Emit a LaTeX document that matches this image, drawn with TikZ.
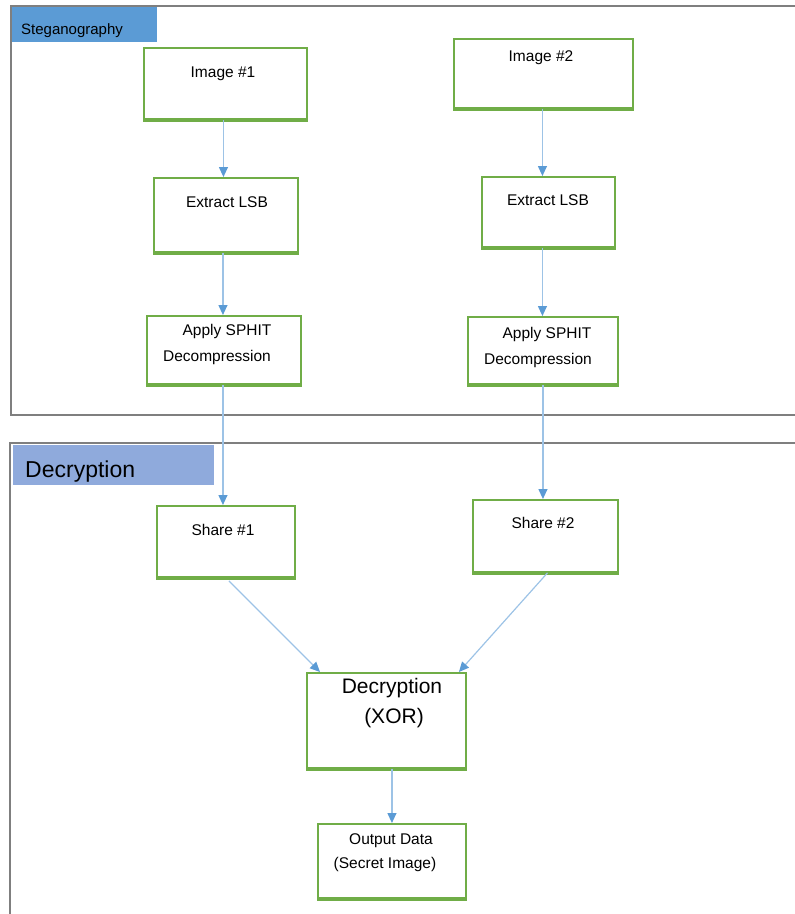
\documentclass[tikz,border=0pt]{standalone}
\usepackage{fontspec}
\setmainfont{Liberation Sans}
\usetikzlibrary{arrows.meta,calc}
\definecolor{stegfill}{HTML}{5B9BD5}
\definecolor{decfill}{HTML}{8FAADC}
\definecolor{gboxc}{HTML}{70AD47}
\definecolor{framec}{HTML}{7F7F7F}
\definecolor{arrline}{HTML}{9DC3E6}
\definecolor{arrhead}{HTML}{5B9BD5}
\tikzset{
  gbox/.style={draw=gboxc, line width=1.9pt, inner sep=0pt, anchor=north west},
  gbottom/.style={draw=gboxc, line width=3.6pt},
  frame/.style={draw=framec, line width=1.8pt},
  txt/.style={inner sep=0pt, anchor=mid, yshift=-3pt, font=\fontsize{15.5}{18}\selectfont},
  bigtxt/.style={inner sep=0pt, anchor=mid, yshift=-3pt, font=\fontsize{21}{24}\selectfont},
  conn/.style={draw=arrline, line width=1.2pt, -{Triangle[length=10pt,width=9pt,color=arrhead]}},
}
\begin{document}
\begin{tikzpicture}[x=1pt,y=-1pt]
\useasboundingbox (0,0) rectangle (795,914);
% frames
\draw[frame] (795,6) -- (11,6) -- (11,415) -- (795,415);
\draw[frame] (795,443) -- (10,443) -- (10,914);
% section labels
\node[fill=stegfill, inner sep=0pt, anchor=north west, minimum width=145pt, minimum height=35pt] (steglab) at (12,7) {};
\node[inner sep=0pt, anchor=west, yshift=-2pt, font=\fontsize{15}{18}\selectfont] (stegtxt) at (21,29) {Steganography};
\node[fill=decfill, inner sep=0pt, anchor=north west, minimum width=201pt, minimum height=40pt] (declab) at (13,445) {};
\node[inner sep=0pt, anchor=west, yshift=-3pt, font=\fontsize{23}{26}\selectfont] (dectxt) at (25,469) {Decryption};
% boxes
\node[gbox, minimum width=163pt, minimum height=71pt] (img1) at (143,47) {};
\node[gbox, minimum width=179pt, minimum height=69pt] (img2) at (453,38) {};
\node[gbox, minimum width=144pt, minimum height=74pt] (ext1) at (153,177) {};
\node[gbox, minimum width=133pt, minimum height=70pt] (ext2) at (481,176) {};
\node[gbox, minimum width=154pt, minimum height=68pt] (ap1) at (146,315) {};
\node[gbox, minimum width=150pt, minimum height=67pt] (ap2) at (467,316) {};
\node[gbox, minimum width=138pt, minimum height=71pt] (sh1) at (156,505) {};
\node[gbox, minimum width=145pt, minimum height=72pt] (sh2) at (472,499) {};
\node[gbox, minimum width=159pt, minimum height=95pt] (dec) at (306,672) {};
\node[gbox, minimum width=148pt, minimum height=74pt] (out) at (317,823) {};
\foreach \n in {img1,img2,ext1,ext2,ap1,ap2,sh1,sh2,dec,out}
  \draw[gbottom] (\n.south west) -- (\n.south east);
% texts
\node[txt] (t1) at (223,72) {Image \#1};
\node[txt] (t2) at (541,56) {Image \#2};
\node[txt] (t3) at (227,202) {Extract LSB};
\node[txt] (t4) at (548,200) {Extract LSB};
\node[txt] (t5) at (227,330) {Apply SPHIT};
\node[txt] (t6) at (217,356) {Decompression};
\node[txt] (t7) at (547,333) {Apply SPHIT};
\node[txt] (t8) at (538,359) {Decompression};
\node[txt] (t9) at (223,530) {Share \#1};
\node[txt] (t10) at (543,523) {Share \#2};
\node[bigtxt] (t11) at (392,688) {Decryption};
\node[bigtxt] (t12) at (394,718) {(XOR)};
\node[txt] (t13) at (391,839) {Output Data};
\node[txt] (t14) at (385,863) {(Secret Image)};
% connectors
\draw[conn] ($(img1.south)+(-2,0)$) -- ($(img1.south |- ext1.north)+(-2,0)$);
\draw[conn] ($(ext1.south)+(-3,0)$) -- ($(ext1.south |- ap1.north)+(-3,0)$);
\draw[conn] ($(ap1.south)+(-1,0)$) -- ($(ap1.south |- sh1.north)+(-1,0)$);
\draw[conn] ($(img2.south)+(-1,0)$) -- ($(img2.south |- ext2.north)+(-1,0)$);
\draw[conn] ($(ext2.south)+(-6,0)$) -- ($(ext2.south |- ap2.north)+(-6,0)$);
\draw[conn] (ap2.south) -- (ap2.south |- sh2.north);
\draw[conn] ($(sh1.south)+(3,3)$) -- ($(dec.north west)+(14,0)$);
\draw[conn] ($(sh2.south)+(2,0)$) -- ($(dec.north east)+(-8,0)$);
\draw[conn] (out.north |- dec.south) -- (out.north);
\end{tikzpicture}
\end{document}
